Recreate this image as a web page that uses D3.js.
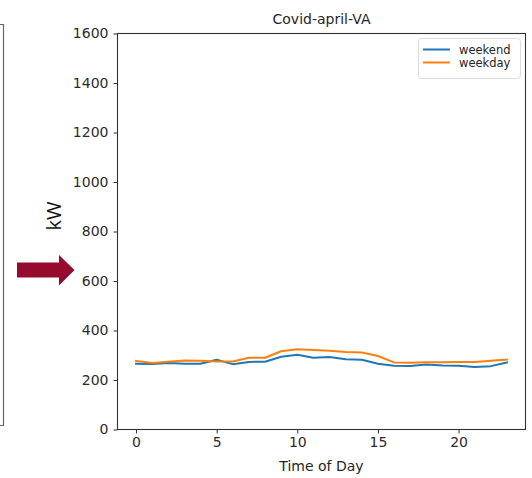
<!DOCTYPE html>
<html>
<head>
<meta charset="utf-8">
<script src="https://cdn.jsdelivr.net/npm/d3@7"></script>
<style>
  html, body { margin: 0; padding: 0; background: #fff; }
  svg { display: block; font-family: "DejaVu Sans", sans-serif; }
</style>
</head>
<body>
<svg id="chart" width="532" height="478"></svg>
<script>
// Hourly load profile (kW), April, Covid period
const hours = d3.range(0, 24);
const weekend = [266, 265, 269, 266, 266, 282, 264, 273, 274, 294, 302, 290,
                 293, 284, 282, 266, 258, 257, 263, 259, 258, 253, 256, 271];
const weekday = [277, 269, 274, 279, 278, 275, 275, 290, 290, 316, 324, 321,
                 318, 313, 311, 297, 271, 270, 272, 272, 273, 273, 278, 283];
const seriesNames = ["weekend", "weekday"];
const seriesColors = ["#1f77b4", "#ff7f0e"];
const yTicks = [0, 200, 400, 600, 800, 1000, 1200, 1400, 1600];
const xTicks = [0, 5, 10, 15, 20];
const chartTitle = "Covid-april-VA";
const xLabel = "Time of Day";
const yLabel = "kW";

const svg = d3.select("#chart");
const plotLeft = 117.5, plotTop = 33.5, plotRight = 525.5, plotBottom = 429.5;

const x = d3.scaleLinear().domain([-1.15, 24.15]).range([plotLeft, plotRight]);
const y = d3.scaleLinear().domain([0, 1600]).range([plotBottom, plotTop]);

// edge of the neighbouring panel on the left
const edge = svg.append("g").attr("stroke", "#666").attr("stroke-width", 1.2).attr("fill", "none");
edge.append("path").attr("d", "M0,24.5 H3.5 V425.5 H0");

// arrow pointing at the axis
svg.append("path")
  .attr("d", "M17,262.5 H59 V255 L74.5,270 L59,285.5 V277.5 H17 Z")
  .attr("fill", "#960b2d");

// axes
const axisColor = "#333";
const yAxis = svg.append("g").attr("transform", `translate(${plotLeft},0)`)
  .call(d3.axisLeft(y).tickValues(yTicks).tickSize(4).tickPadding(5).tickFormat(d3.format("d")));
const xAxis = svg.append("g").attr("transform", `translate(0,${plotBottom})`)
  .call(d3.axisBottom(x).tickValues(xTicks).tickSize(4).tickPadding(4).tickFormat(d3.format("d")));
[xAxis, yAxis].forEach(a => {
  a.select(".domain").remove();
  a.selectAll(".tick line").attr("stroke", axisColor);
  a.selectAll(".tick text").attr("fill", "#2b2b2b")
    .style("font-family", "DejaVu Sans, sans-serif").style("font-size", "14px");
});

// series lines
const line = d3.line().x((d, i) => x(hours[i])).y(d => y(d));
[weekend, weekday].forEach((s, k) => {
  svg.append("path").datum(s)
    .attr("d", line)
    .attr("fill", "none")
    .attr("stroke", seriesColors[k])
    .attr("stroke-width", 2)
    .attr("stroke-linejoin", "round")
    .attr("stroke-linecap", "square");
});

// plot frame
svg.append("rect")
  .attr("x", plotLeft).attr("y", plotTop)
  .attr("width", plotRight - plotLeft).attr("height", plotBottom - plotTop)
  .attr("fill", "none").attr("stroke", axisColor).attr("stroke-width", 1.1);

// title and axis labels
svg.append("text").attr("x", (plotLeft + plotRight) / 2).attr("y", 24)
  .attr("text-anchor", "middle").attr("fill", "#262626")
  .style("font-size", "14px").text(chartTitle);
svg.append("text").attr("x", (plotLeft + plotRight) / 2).attr("y", 471)
  .attr("text-anchor", "middle").attr("fill", "#262626")
  .style("font-size", "14px").text(xLabel);
svg.append("text")
  .attr("transform", "translate(61,216) rotate(-90)")
  .attr("text-anchor", "middle").attr("fill", "#111")
  .style("font-family", "Open Sans, DejaVu Sans, sans-serif")
  .style("font-size", "20px").text(yLabel);

// legend
const lg = svg.append("g");
lg.append("rect").attr("x", 418.5).attr("y", 38.5).attr("width", 102).attr("height", 40)
  .attr("rx", 3).attr("fill", "#fff").attr("fill-opacity", 0.8)
  .attr("stroke", "#dcdcdc");
seriesNames.forEach((name, k) => {
  const yy = 49.5 + k * 13;
  lg.append("line").attr("x1", 423).attr("x2", 450).attr("y1", yy).attr("y2", yy)
    .attr("stroke", seriesColors[k]).attr("stroke-width", 2);
  lg.append("text").attr("x", 459).attr("y", yy + 4)
    .attr("fill", "#262626").style("font-size", "11.5px").text(name);
});
</script>
</body>
</html>
